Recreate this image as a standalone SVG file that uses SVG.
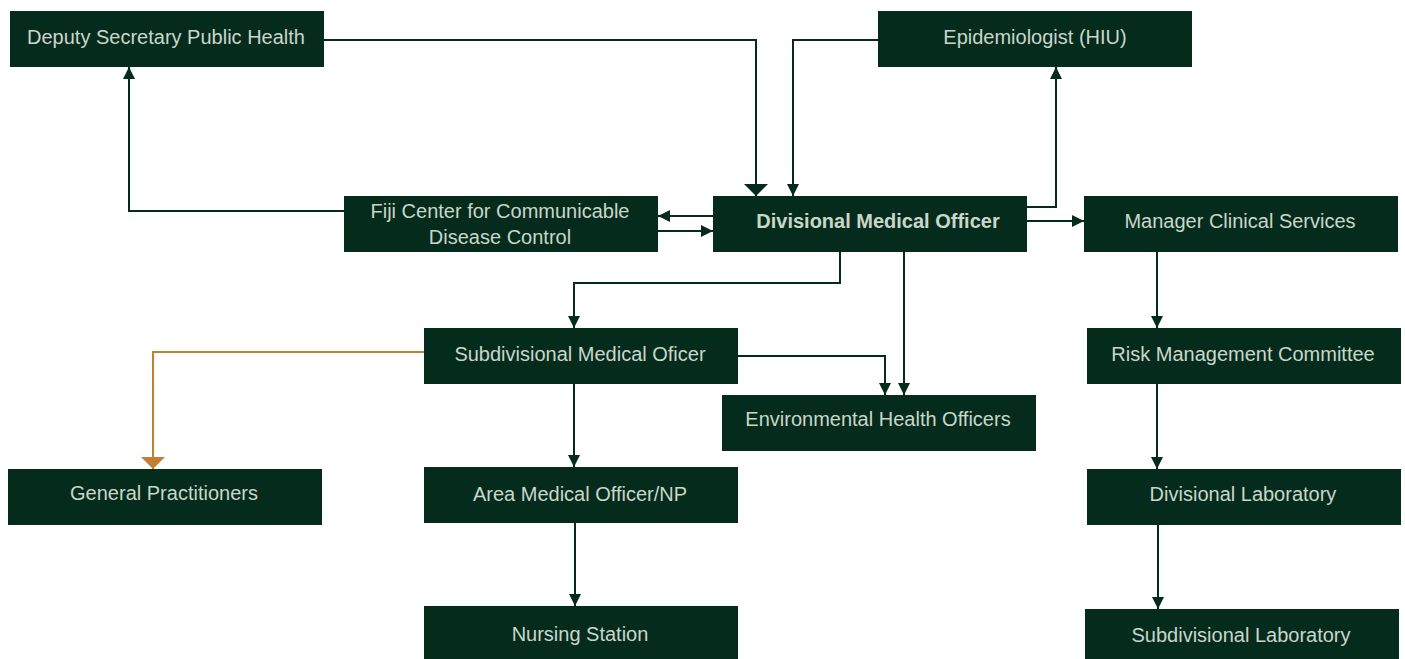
<svg xmlns="http://www.w3.org/2000/svg" width="1405" height="659" viewBox="0 0 1405 659">
<style>
.n{fill:#052b1d}
.t{font-family:"Liberation Sans",Arial,sans-serif;font-size:20px;fill:#c9d7c9;text-anchor:middle}
.b{font-weight:bold}
.e{fill:none;stroke:#052b1d;stroke-width:2}
.o{fill:none;stroke:#c07f32;stroke-width:2}
</style>
<defs>
<marker id="a" markerUnits="userSpaceOnUse" markerWidth="14" markerHeight="14" refX="12" refY="6" orient="auto"><path d="M0,0 L12,6 L0,12 Z" fill="#052b1d"/></marker>
<marker id="big" markerUnits="userSpaceOnUse" markerWidth="14" markerHeight="26" refX="12" refY="13" orient="auto"><path d="M0,1 L12,13 L0,25 Z" fill="#052b1d"/></marker>
<marker id="bigo" markerUnits="userSpaceOnUse" markerWidth="14" markerHeight="26" refX="12" refY="13" orient="auto"><path d="M0,1 L12,13 L0,25 Z" fill="#c07f32"/></marker>
</defs>
<rect width="1405" height="659" fill="#ffffff"/>
<g id="connectors">
<path class="e" d="M324,40 H756 V196" marker-end="url(#big)"/>
<path class="e" d="M878,40 H793 V196" marker-end="url(#a)"/>
<path class="e" d="M1027,207 H1056 V67" marker-end="url(#a)"/>
<path class="e" d="M344,211 H129 V67" marker-end="url(#a)"/>
<path class="e" d="M713,216 H658" marker-end="url(#a)"/>
<path class="e" d="M658,231 H713" marker-end="url(#a)"/>
<path class="e" d="M1027,221 H1084" marker-end="url(#a)"/>
<path class="e" d="M840,252 V283 H574 V328" marker-end="url(#a)"/>
<path class="e" d="M904,252 V395" marker-end="url(#a)"/>
<path class="e" d="M738,356 H885 V395" marker-end="url(#a)"/>
<path class="o" d="M424,352 H153 V469" marker-end="url(#bigo)"/>
<path class="e" d="M574,384 V467" marker-end="url(#a)"/>
<path class="e" d="M575,523 V606" marker-end="url(#a)"/>
<path class="e" d="M1157,252 V328" marker-end="url(#a)"/>
<path class="e" d="M1157,384 V469" marker-end="url(#a)"/>
<path class="e" d="M1158,525 V609" marker-end="url(#a)"/>
</g>
<g id="deputy"><rect class="n" x="10" y="11" width="314" height="56"/><text class="t" x="166" y="44">Deputy Secretary Public Health</text></g>
<g id="epidemiologist"><rect class="n" x="878" y="11" width="314" height="56"/><text class="t" x="1035" y="44">Epidemiologist (HIU)</text></g>
<g id="fiji"><rect class="n" x="344" y="196" width="314" height="56"/><text class="t" x="500" y="218">Fiji Center for Communicable</text><text class="t" x="500" y="244">Disease Control</text></g>
<g id="dmo"><rect class="n" x="713" y="196" width="314" height="56"/><text class="t b" x="878" y="228">Divisional Medical Officer</text></g>
<g id="manager"><rect class="n" x="1084" y="196" width="314" height="56"/><text class="t" x="1240" y="228">Manager Clinical Services</text></g>
<g id="smo"><rect class="n" x="424" y="328" width="314" height="56"/><text class="t" x="580" y="361">Subdivisional Medical Oficer</text></g>
<g id="risk"><rect class="n" x="1087" y="328" width="314" height="56"/><text class="t" x="1243" y="361">Risk Management Committee</text></g>
<g id="env"><rect class="n" x="722" y="395" width="314" height="56"/><text class="t" x="878" y="426">Environmental Health Officers</text></g>
<g id="gp"><rect class="n" x="8" y="469" width="314" height="56"/><text class="t" x="164" y="500">General Practitioners</text></g>
<g id="amo"><rect class="n" x="424" y="467" width="314" height="56"/><text class="t" x="580" y="501">Area Medical Officer/NP</text></g>
<g id="divlab"><rect class="n" x="1087" y="469" width="314" height="56"/><text class="t" x="1243" y="501">Divisional Laboratory</text></g>
<g id="nursing"><rect class="n" x="424" y="606" width="314" height="53"/><text class="t" x="580" y="641">Nursing Station</text></g>
<g id="sublab"><rect class="n" x="1085" y="609" width="314" height="50"/><text class="t" x="1241" y="642">Subdivisional Laboratory</text></g>
</svg>
